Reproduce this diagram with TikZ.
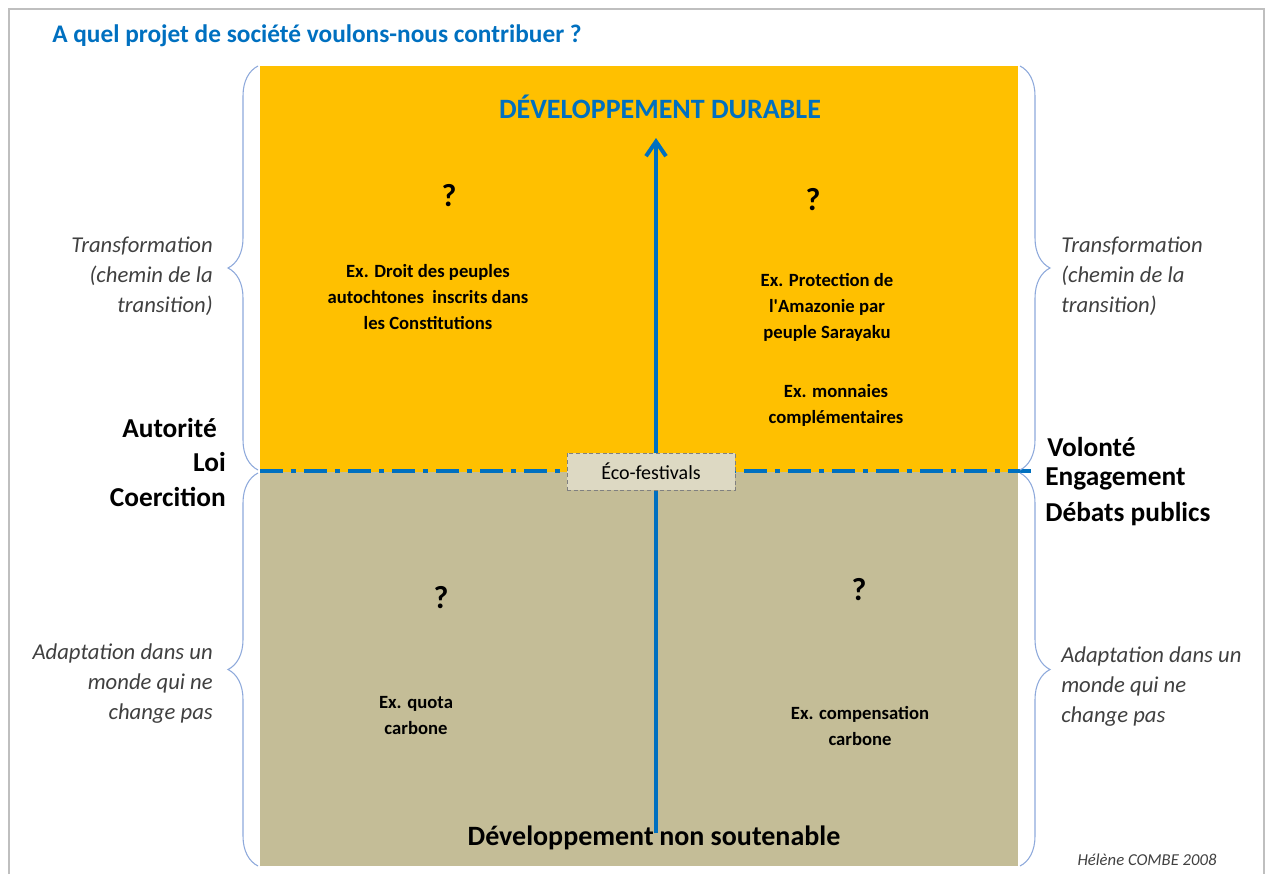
\documentclass[tikz,border=0pt]{standalone}
\usepackage{fontspec}
\setmainfont{Carlito}
\usetikzlibrary{arrows.meta,decorations.pathreplacing}
\definecolor{jaune}{HTML}{FFC000}
\definecolor{beige}{HTML}{C4BD97}
\definecolor{bleu}{HTML}{0070C0}
\definecolor{cadre}{HTML}{DDD9C3}
\definecolor{accolade}{HTML}{8EA9DB}
\definecolor{texte}{HTML}{404040}

\begin{document}
\begin{tikzpicture}[x=0.75pt,y=-0.75pt,
  ex/.style={font=\bfseries\fontsize{14}{19.5}\selectfont,align=center,inner sep=0pt},
  q/.style={font=\bfseries\fontsize{24}{28}\selectfont,inner sep=0pt},
  cote/.style={font=\itshape\fontsize{17}{22.5}\selectfont,text=texte,inner sep=0pt},
  pole/.style={font=\bfseries\fontsize{20.5}{24}\selectfont,inner sep=0pt},
  acc/.style={draw=accolade,line width=0.8pt,decorate,decoration={brace,amplitude=22.5pt}}]
\useasboundingbox (0,0) rectangle (1266,874);
\draw[gray!50,line width=1.5pt] (9,874) -- (9,9) -- (1264,9) -- (1264,874);

% quadrants
\fill[jaune] (260,66) rectangle (1018,472);
\fill[beige] (260,472) rectangle (1018,866);

\node[anchor=base west,font=\bfseries\fontsize{19}{22}\selectfont,text=bleu,inner sep=0pt] (titre) at (52,43) {A quel projet de société voulons-nous contribuer ?};

% axes
\coordinate (g) at (260,471);
\coordinate (d) at (1033,471);
\coordinate (bas) at (656,833);
\coordinate (haut) at (656,138);
\path[draw=bleu,line width=3pt,dash pattern=on 17pt off 6pt on 4pt off 6pt] (g) -- (d);
\path[draw=bleu,line width=3pt,-{Straight Barb[length=11pt,width=15pt]}] (bas) -- (haut);

\node[draw=gray,densely dashed,fill=cadre,minimum width=126pt,minimum height=27.75pt,inner sep=0pt,font=\fontsize{15}{17}\selectfont] (eco) at (651,471.5) {Éco-festivals};

\node[anchor=base,font=\bfseries\fontsize{21}{24}\selectfont,text=bleu,inner sep=0pt] (durable) at (660,118) {DÉVELOPPEMENT DURABLE};
\node[anchor=base east,font=\bfseries\fontsize{21}{24}\selectfont,inner sep=0pt] (nondev) at (654,845) {Développement};
\node[anchor=base west,font=\bfseries\fontsize{21}{24}\selectfont,inner sep=0pt] (soutenable) at (659,845) {non soutenable};

% questions et exemples
\node[q] (q1) at (449,196) {?};
\node[q] (q2) at (813,200) {?};
\node[q] (q3) at (441,598) {?};
\node[q] (q4) at (859,590) {?};
\node[ex] (ex1) at (428,297) {Ex. Droit des peuples\\autochtones\ \ inscrits dans\\les Constitutions};
\node[ex] (ex2) at (827,307) {Ex. Protection de\\l\textquotesingle Amazonie par\\peuple Sarayaku};
\node[ex] (ex3) at (836,405) {Ex. monnaies\\complémentaires};
\node[ex] (ex4) at (416,716) {Ex. quota\\carbone};
\node[ex] (ex5) at (860,726) {Ex. compensation\\carbone};

% accolades
\coordinate (ga) at (258,66);
\coordinate (gb) at (258,470);
\coordinate (gc) at (258,473);
\coordinate (gd) at (258,866);
\coordinate (da) at (1020,66);
\coordinate (db) at (1020,470);
\coordinate (dc) at (1020,473);
\coordinate (dd) at (1020,866);
\path[acc] (gb) -- (ga);
\path[acc] (gd) -- (gc);
\path[acc] (da) -- (db);
\path[acc] (dc) -- (dd);

\node[cote,anchor=east,align=right] (tg) at (213,276) {Transformation\\(chemin de la\\transition)};
\node[cote,anchor=west,align=left] (td) at (1061,276) {Transformation\\(chemin de la\\transition)};
\node[cote,anchor=east,align=right] (ag) at (213,684) {Adaptation dans un\\monde qui ne\\change pas};
\node[cote,anchor=west,align=left] (ad) at (1061,687) {Adaptation dans un\\monde qui ne\\change pas};

\node[pole,anchor=east] (autorite) at (217,428) {Autorité};
\node[pole,anchor=east] (loi) at (226,462) {Loi};
\node[pole,anchor=east] (coercition) at (226,497) {Coercition};
\node[pole,anchor=west] (volonte) at (1047,447) {Volonté};
\node[pole,anchor=west] (engagement) at (1045,479) {Engagement};
\node[pole,anchor=west] (debats) at (1045,514) {Débats publics};

\node[font=\itshape\fontsize{12.5}{14}\selectfont,text=texte,inner sep=0pt] (auteur) at (1147,860) {Hélène COMBE 2008};
\end{tikzpicture}
\end{document}
